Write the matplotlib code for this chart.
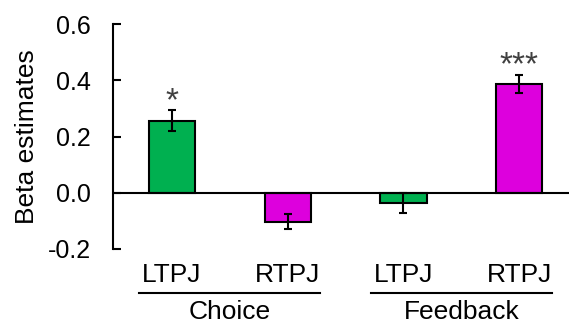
"""
Beta estimates for LTPJ / RTPJ in the Choice and Feedback phases.
"""
import numpy as np
import matplotlib.pyplot as plt
import matplotlib.transforms as mtransforms

plt.rcParams['font.family'] = ['Liberation Sans', 'DejaVu Sans']

# values
regions = ['LTPJ', 'RTPJ', 'LTPJ', 'RTPJ']
groups = ['Choice', 'Feedback']
betas = [0.256, -0.103, -0.036, 0.387]
sems = [0.037, 0.027, 0.035, 0.032]
stars = ['*', '', '', '***']
colors = ['#00B050', '#DD00DD', '#00B050', '#DD00DD']

fig = plt.figure(figsize=(5.69, 3.24), dpi=100)
ax = fig.add_axes([0.1986, 0.2315, 0.8014, 0.6944])

x = np.arange(len(betas))
ax.bar(x, betas, width=0.4, color=colors, edgecolor='black', linewidth=1.5, zorder=2)
ax.errorbar(x, betas, yerr=sems, fmt='none', ecolor='black', elinewidth=1.5,
            capsize=3, capthick=1.5, zorder=3)
ax.axhline(0, color='black', linewidth=1.5, zorder=4)

for xi, b, s, st in zip(x, betas, sems, stars):
    if st:
        ax.text(xi, b + s + 0.002, st, ha='center', va='baseline', fontsize=24,
                color='#404040')

ax.set_xlim(-0.51, 3.43)
ax.set_ylim(-0.2, 0.6)
ax.set_yticks([-0.2, 0.0, 0.2, 0.4, 0.6])
ax.set_yticklabels(['-0.2', '0.0', '0.2', '0.4', '0.6'])
ax.set_xticks(x)
ax.set_xticklabels(regions)
ax.tick_params(axis='y', direction='in', length=6, width=1.5, labelsize=18, pad=16)
ax.tick_params(axis='x', length=0, labelsize=19, pad=10)
ax.set_ylabel('Beta estimates', fontsize=19, labelpad=6)

for side in ['top', 'right', 'bottom']:
    ax.spines[side].set_visible(False)
ax.spines['left'].set_linewidth(1.5)

# group lines and labels under the category labels
trans = mtransforms.blended_transform_factory(ax.transData, ax.transAxes)
for gi, g in enumerate(groups):
    x0 = 2 * gi - 0.285
    x1 = 2 * gi + 1 + 0.28
    ax.plot([x0, x1], [-0.196, -0.196], color='black', linewidth=1.5,
            transform=trans, clip_on=False)
    ax.text(2 * gi + 0.5, -0.28, g, transform=trans, ha='center', va='center', fontsize=19)

fig.savefig('out.png', dpi=100)
